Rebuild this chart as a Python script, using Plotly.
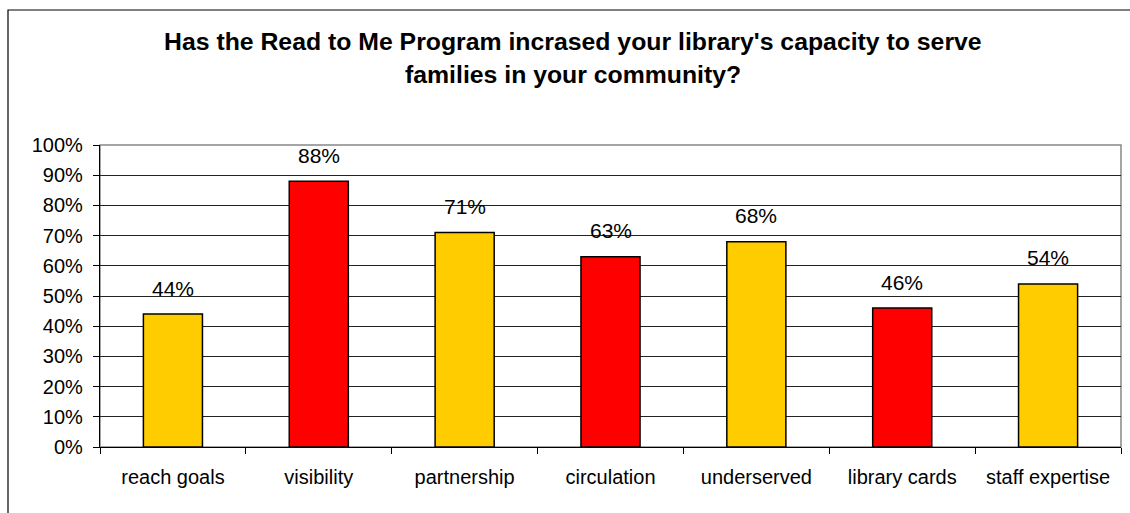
import plotly.graph_objects as go

categories = ["reach goals", "visibility", "partnership", "circulation",
              "underserved", "library cards", "staff expertise"]
values = [44, 88, 71, 63, 68, 46, 54]
bar_colors = ["#FFCC00", "#FF0000", "#FFCC00", "#FF0000",
              "#FFCC00", "#FF0000", "#FFCC00"]
y_ticks = list(range(0, 101, 10))
y_tick_labels = [f"{t}%" for t in y_ticks]
title_lines = ["Has the Read to Me Program incrased your library's capacity to serve",
               "families in your community?"]

W, H = 1130, 513
L, R, T, B = 100, 9, 145, 66
pw = W - L - R
ph = H - T - B
FONT = "Arial, Liberation Sans, sans-serif"


def px_x(x):
    return (x - L) / pw


def px_y(y):
    return (H - B - y) / ph


fig = go.Figure()
fig.add_trace(go.Bar(
    x=categories, y=values,
    marker=dict(color=bar_colors, line=dict(color="#000000", width=1.5)),
    width=0.405,
    hoverinfo="skip",
))

# value labels above each bar
for c, v in zip(categories, values):
    fig.add_annotation(x=c, y=v, text=f"{v}%", showarrow=False,
                       yanchor="middle", yshift=26,
                       font=dict(family=FONT, size=21, color="#000"))

# two-line bold title
for i, line in enumerate(title_lines):
    fig.add_annotation(xref="paper", yref="paper", x=px_x(573), y=px_y(41 + 33 * i),
                       text=f"<b>{line}</b>", showarrow=False,
                       xanchor="center", yanchor="middle",
                       font=dict(family=FONT, size=24.8, color="#000"))

# outer chart frame (right and bottom edges fall outside the page)
fig.add_shape(type="rect", xref="paper", yref="paper",
              x0=px_x(8), x1=px_x(1250), y0=px_y(600), y1=px_y(10),
              line=dict(color="#000", width=1.2), fillcolor="rgba(0,0,0,0)", layer="below")
# plot area border
fig.add_shape(type="rect", xref="paper", yref="paper", x0=0, x1=1, y0=0, y1=1,
              line=dict(color="#888", width=1.5), fillcolor="rgba(0,0,0,0)", layer="below")

fig.update_layout(
    width=W, height=H,
    margin=dict(l=L, r=R, t=T, b=B),
    paper_bgcolor="white", plot_bgcolor="white",
    showlegend=False,
    font=dict(family=FONT, color="#000"),
)
fig.update_yaxes(
    range=[0, 100], tickvals=y_ticks, ticktext=y_tick_labels,
    showgrid=True, gridcolor="#222", gridwidth=1,
    showline=True, linecolor="#000", linewidth=1.2,
    ticks="outside", ticklen=6, tickcolor="#000",
    tickfont=dict(size=20), ticklabelstandoff=6,
    zeroline=False, fixedrange=True,
)
fig.update_xaxes(
    showline=True, linecolor="#000", linewidth=1.2,
    ticks="outside", ticklen=6, tickcolor="#000", tickson="boundaries",
    tickfont=dict(size=20), ticklabelstandoff=12, fixedrange=True,
)

fig.write_html("out.html")
